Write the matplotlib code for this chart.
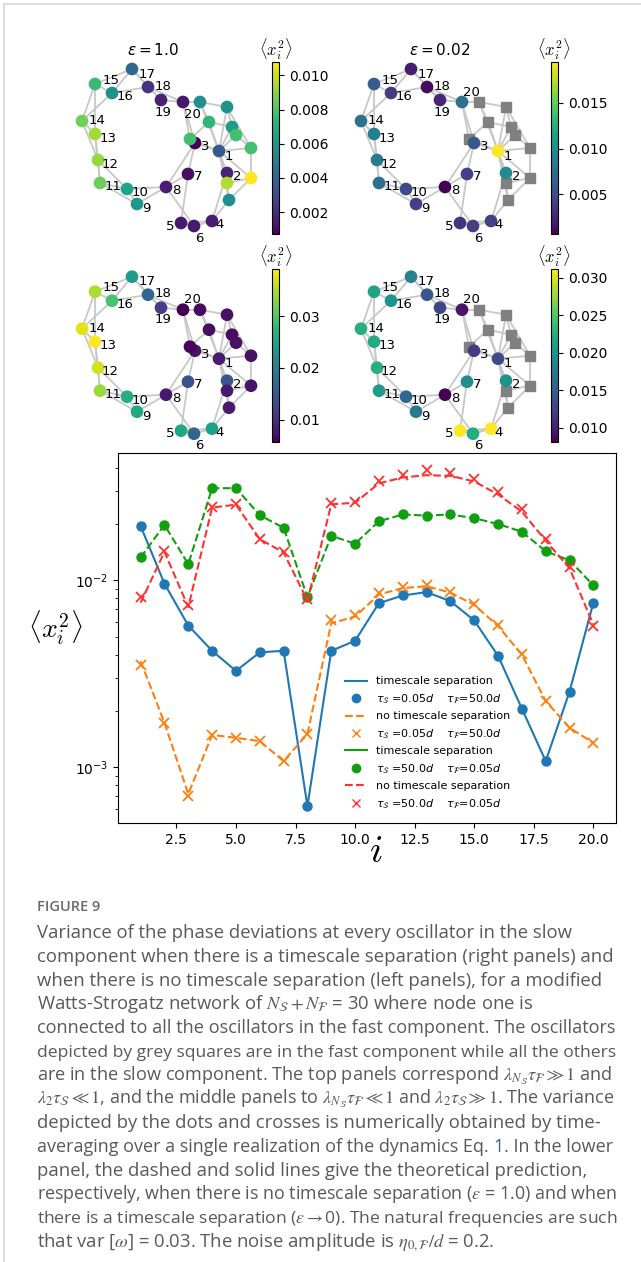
import matplotlib.pyplot as plt
import numpy as np
from matplotlib.lines import Line2D
from matplotlib.ticker import MultipleLocator

W, H = 641, 1262

# ---- lower panel: variance per slow oscillator i = 1..20 ----
osc = np.arange(1, 21)
# tau_S = 0.05d, tau_F = 50.0d
sep_a_theory = [0.0195, 0.0096, 0.00573, 0.0042, 0.00328, 0.00412, 0.0042, 0.00062, 0.0042, 0.00475,
                0.00755, 0.0083, 0.00865, 0.00774, 0.0061, 0.00395, 0.00206, 0.00108, 0.00254, 0.0076]
sep_a_sim = [0.0195, 0.0096, 0.00573, 0.0042, 0.00328, 0.00412, 0.0042, 0.00062, 0.0042, 0.00475,
             0.00755, 0.0083, 0.00865, 0.00774, 0.0061, 0.00395, 0.00206, 0.00108, 0.00254, 0.0076]
nosep_a_theory = [0.0037, 0.00173, 0.00072, 0.00149, 0.00144, 0.00138, 0.00108, 0.00151, 0.0059, 0.0064,
                  0.0084, 0.0091, 0.0093, 0.0086, 0.0074, 0.0057, 0.0040, 0.00226, 0.00163, 0.00135]
nosep_a_sim = [0.00353, 0.00173, 0.000705, 0.00149, 0.00144, 0.00138, 0.00108, 0.00151, 0.0061, 0.00656,
               0.00855, 0.0092, 0.0094, 0.00865, 0.0075, 0.0058, 0.00404, 0.00226, 0.00163, 0.00135]
# tau_S = 50.0d, tau_F = 0.05d
sep_b_theory = [0.01325, 0.0198, 0.0122, 0.0311, 0.0311, 0.0223, 0.0191, 0.00813, 0.0173, 0.0157,
                0.0207, 0.0225, 0.0222, 0.0225, 0.0215, 0.0200, 0.0182, 0.0143, 0.0128, 0.0094]
sep_b_sim = [0.01325, 0.0198, 0.0122, 0.0311, 0.0311, 0.0223, 0.0191, 0.00813, 0.0173, 0.0157,
             0.0207, 0.0225, 0.0222, 0.0225, 0.0215, 0.0200, 0.0182, 0.0143, 0.0128, 0.0094]
nosep_b_theory = [0.0076, 0.0142, 0.0072, 0.0245, 0.0254, 0.0166, 0.0141, 0.0078, 0.0255, 0.0260,
                  0.0330, 0.0355, 0.0365, 0.0362, 0.0338, 0.0288, 0.0233, 0.0163, 0.0116, 0.0058]
nosep_b_sim = [0.0081, 0.0144, 0.00734, 0.0248, 0.0256, 0.01655, 0.0141, 0.0079, 0.0258, 0.0262,
               0.0340, 0.0367, 0.0390, 0.0375, 0.0349, 0.0295, 0.0240, 0.01655, 0.0118, 0.0057]

# fast component nodes (21..30) shown as circles in the left panels
fast_nosep_a = [0.0057, 0.0058, 0.0073, 0.0062, 0.0078, 0.0078, 0.0078, 0.0108, 0.0096, 0.0057]
fast_nosep_b = [0.0065, 0.0072, 0.0070, 0.0068, 0.0072, 0.0062, 0.0072, 0.0075, 0.0078, 0.0080]

# ---- network layout (nodes 1..20 slow, 21..30 fast) ----
layout_u = [13.7, 14.5, 11.3, 13.0, 9.9, 11.2, 10.6, 8.4, 5.5, 4.5,
            1.8, 1.6, 1.3, 0.0, 1.3, 3.0, 5.0, 6.6, 7.9, 10.1,
            11.8, 14.5, 12.7, 15.0, 15.4, 10.8, 16.9, 16.9, 14.5, 14.7]
layout_v = [7.5, 5.3, 8.3, 0.5, 0.3, 0.0, 5.2, 3.9, 2.2, 3.7,
            4.3, 6.6, 9.2, 10.5, 14.2, 13.3, 15.7, 13.9, 12.6, 12.4,
            12.4, 11.9, 10.4, 9.9, 9.1, 8.7, 7.8, 4.8, 4.3, 2.6]
edges = [(1, 2), (1, 3), (2, 4), (3, 8), (3, 20), (4, 5), (4, 6), (5, 6), (5, 7), (6, 8),
         (7, 8), (7, 3), (8, 9), (8, 10), (9, 10), (9, 11), (10, 11), (10, 12), (11, 12),
         (11, 13), (12, 13), (12, 14), (13, 14), (13, 15), (14, 15), (14, 16), (15, 16),
         (15, 17), (16, 17), (16, 18), (17, 18), (17, 19), (18, 19), (18, 20), (19, 20),
         (20, 21), (21, 22), (21, 23), (22, 24), (22, 27), (23, 24), (23, 26), (24, 25),
         (25, 27), (27, 28), (28, 29), (28, 30), (29, 30), (2, 29), (4, 30), (3, 26), (20, 26)]
edges += [(1, k) for k in range(21, 31)]

label_off = {1: (10, 5), 2: (10, 4), 3: (10, 4), 4: (8, 4), 5: (-11, 3), 6: (5, 12), 7: (10, 3),
             8: (10, 4), 9: (9, 5), 10: (13, 4), 11: (13, 4), 12: (12, 4), 13: (13, 4), 14: (15, 0),
             15: (16, -4), 16: (13, 4), 17: (15, 5), 18: (15, -1), 19: (2, 12), 20: (9, -10)}

plt.rcParams['font.family'] = ['DejaVu Sans']
fig = plt.figure(figsize=(W / 100, H / 100), dpi=100)


def px_rect(x0, y0, x1, y1):
    return [x0 / W, 1 - y1 / H, (x1 - x0) / W, (y1 - y0) / H]


def draw_net(dx, dy, slow_vals, fast_vals, cb_x, tick_step, top_left=False):
    ax = fig.add_axes(px_rect(67 + dx, 56 + dy, 267 + dx, 241 + dy))
    ax.set_xlim(-1.5, 18.5)
    ax.set_ylim(-1.5, 17)
    ax.axis('off')
    u = np.array(layout_u)
    v = np.array(layout_v)
    for a, b in edges:
        ax.plot([u[a - 1], u[b - 1]], [v[a - 1], v[b - 1]], color='#c8c8c8', lw=1.3, zorder=1)
    if fast_vals is None:
        ax.scatter(u[20:], v[20:], marker='s', s=42, color='#808080', zorder=2)
        sc = ax.scatter(u[:20], v[:20], c=slow_vals, cmap='viridis', s=66, zorder=3)
    else:
        vals = list(slow_vals) + list(fast_vals)
        sc = ax.scatter(u, v, c=vals, cmap='viridis', s=66, zorder=3)
    for k in range(20):
        ox, oy = label_off[k + 1]
        if top_left and k + 1 == 20:
            ox, oy = 9, 12
        ax.annotate(str(k + 1), (u[k], v[k]), xytext=(ox, -oy), textcoords='offset pixels',
                    ha='center', va='center', fontsize=9.5, zorder=4)
    cax = fig.add_axes(px_rect(cb_x, 61.7 + dy, cb_x + 7.5, 234.3 + dy))
    cb = fig.colorbar(sc, cax=cax)
    cb.ax.yaxis.set_major_locator(MultipleLocator(tick_step))
    cb.ax.tick_params(labelsize=10)
    cb.outline.set_linewidth(0.8)
    cax.set_title(r'$\langle x_i^2\rangle$', fontsize=12, math_fontfamily='cm', pad=3)
    return ax


draw_net(0, 0, nosep_a_sim, fast_nosep_a, 271.7, 0.002, top_left=True)
draw_net(279, 0, sep_a_sim, None, 550.5, 0.005)
draw_net(0, 207.7, nosep_b_sim, fast_nosep_b, 271.7, 0.01)
draw_net(279, 207.7, sep_b_sim, None, 550.5, 0.005)

fig.text(153 / W, 1 - 50 / H, r'$\varepsilon = 1.0$', ha='center', va='center', fontsize=11)
fig.text(440 / W, 1 - 50 / H, r'$\varepsilon = 0.02$', ha='center', va='center', fontsize=11)

# ---- lower panel ----
ax = fig.add_axes(px_rect(118, 453, 616, 823))
ax.plot(osc, sep_a_theory, '-', color='tab:blue', lw=1.5)
ax.plot(osc, sep_a_sim, 'o', color='tab:blue', ms=6.5)
ax.plot(osc, nosep_a_theory, '--', color='tab:orange', lw=1.5)
ax.plot(osc, nosep_a_sim, 'x', color='tab:orange', ms=7, mew=1.3)
ax.plot(osc, sep_b_theory, '--', color='#119e11', lw=1.5)
ax.plot(osc, sep_b_sim, 'o', color='#119e11', ms=6.5)
ax.plot(osc, nosep_b_theory, '--', color='#ff3030', lw=1.5)
ax.plot(osc, nosep_b_sim, 'x', color='#ff3030', ms=7, mew=1.3)
ax.set_yscale('log')
ax.tick_params(labelsize=10)

tau_a = r'$\tau_{\mathcal{S}}$ =0.05$d$    $\tau_{\mathcal{F}}$=50.0$d$'
tau_b = r'$\tau_{\mathcal{S}}$ =50.0$d$    $\tau_{\mathcal{F}}$=0.05$d$'
handles = [Line2D([], [], color='tab:blue', lw=1.5),
           Line2D([], [], color='tab:blue', marker='o', ls='none', ms=6),
           Line2D([], [], color='tab:orange', lw=1.5, ls='--'),
           Line2D([], [], color='tab:orange', marker='x', ls='none', ms=6),
           Line2D([], [], color='#119e11', lw=1.5),
           Line2D([], [], color='#119e11', marker='o', ls='none', ms=6),
           Line2D([], [], color='#ff3030', lw=1.5, ls='--'),
           Line2D([], [], color='#ff3030', marker='x', ls='none', ms=6)]
labels = ['timescale separation', tau_a, 'no timescale separation', tau_a,
          'timescale separation', tau_b, 'no timescale separation', tau_b]
ax.legend(handles, labels, loc='upper left', bbox_to_anchor=(0.447, 0.408), fontsize=8,
          frameon=False, borderaxespad=0)

ax.set_ylabel(r'$\langle x_i^2\rangle$', rotation=0, fontsize=20, math_fontfamily='cm',
              ha='center', va='center')
ax.yaxis.set_label_coords((55 - 118) / 498, (823 - 628) / 370)
ax.set_xlabel(r'$i$', fontsize=28, math_fontfamily='cm', va='center')
ax.xaxis.set_label_coords((376 - 118) / 498, -(851 - 823) / 370)

# ---- frame lines ----
fig.add_artist(Line2D([4 / W, 1], [1 - 4 / H, 1 - 4 / H], color='#d4d4d4', lw=1.1))
fig.add_artist(Line2D([4 / W, 4 / W], [0, 1 - 4 / H], color='#d4d4d4', lw=1.1))

# ---- caption ----
cap_color = '#595959'
fig.text(37 / W, 1 - 911 / H, 'FIGURE 9', fontsize=10.5, color='#6a6a6a', family='Open Sans',
         weight='semibold', va='baseline')
cap_lines = [
    'Variance of the phase deviations at every oscillator in the slow',
    'component when there is a timescale separation (right panels) and',
    'when there is no timescale separation (left panels), for a modified',
    r'Watts-Strogatz network of $N_{\mathcal{S}} + N_{\mathcal{F}}$ = 30 where node one is',
    'connected to all the oscillators in the fast component. The oscillators',
    'depicted by grey squares are in the fast component while all the others',
    r'are in the slow component. The top panels correspond $\lambda_{N_{\mathcal{S}}}\tau_{\mathcal{F}} \gg 1$ and',
    r'$\lambda_2\tau_{\mathcal{S}} \ll 1$, and the middle panels to $\lambda_{N_{\mathcal{S}}}\tau_{\mathcal{F}} \ll 1$ and $\lambda_2\tau_{\mathcal{S}} \gg 1$. The variance',
    'depicted by the dots and crosses is numerically obtained by time-',
    None,
    'panel, the dashed and solid lines give the theoretical prediction,',
    r'respectively, when there is no timescale separation ($\epsilon$ = 1.0) and when',
    r'there is a timescale separation ($\epsilon \rightarrow$0). The natural frequencies are such',
    r'that var [$\omega$] = 0.03. The noise amplitude is $\eta_{0,\mathcal{F}}/d$ = 0.2.',
]
renderer = fig.canvas.get_renderer()
base0 = 938
cap_fs = 13.3
for n, line in enumerate(cap_lines):
    yb = 1 - (base0 + 23.75 * n) / H
    if line is not None:
        t = fig.text(37 / W, yb, line, fontsize=cap_fs, color=cap_color, family='Open Sans',
                     math_fontfamily='stix', va='baseline')
        fs = cap_fs
        while t.get_window_extent(renderer).x1 > 618 and fs > 9:
            fs -= 0.1
            t.set_fontsize(fs)
    else:
        parts = [('averaging over a single realization of the dynamics Eq. ', cap_color),
                 ('1', '#3b5bb5'), ('. In the lower', cap_color)]
        ts = []
        x = 37
        for s, c in parts:
            t = fig.text(x / W, yb, s, fontsize=cap_fs, color=c, family='Open Sans', va='baseline')
            ts.append(t)
            x = t.get_window_extent(renderer).x1
        fs = cap_fs
        while x > 618 and fs > 9:
            fs -= 0.1
            x = 37
            for t in ts:
                t.set_fontsize(fs)
                t.set_x(x / W)
                x = t.get_window_extent(renderer).x1

fig.savefig('out.png', dpi=100)
